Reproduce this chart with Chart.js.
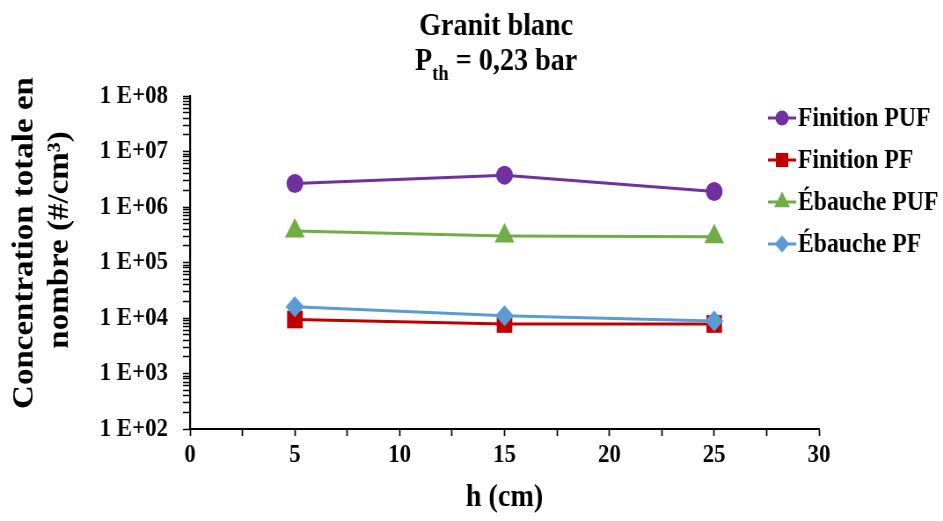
<!DOCTYPE html>
<html lang="fr">
<head>
<meta charset="utf-8">
<title>Granit blanc</title>
<script src="https://cdn.jsdelivr.net/npm/chart.js@4.4.1/dist/chart.umd.min.js"></script>
<style>
  html, body { margin: 0; padding: 0; background: #fff; overflow: hidden; }
  /* la figure d'origine est légèrement comprimée en largeur */
  #wrap { position: relative; width: 1072px; height: 521px; transform: scaleX(0.8797); transform-origin: 0 0; }
</style>
</head>
<body>
<div id="wrap"><canvas id="chart" width="1072" height="521"></canvas></div>
<script>
// Données (h en cm, concentration en #/cm3)
const hauteurs = [5, 15, 25];
const finitionPUF = [2.65e6, 3.75e6, 1.9e6];
const finitionPF = [9.4e3, 7.8e3, 7.8e3];
const ebauchePUF = [3.7e5, 3.0e5, 2.9e5];
const ebauchePF = [1.6e4, 1.1e4, 8.8e3];

const xTicks = [0, 5, 10, 15, 20, 25, 30];
const yTicks = [1e2, 1e3, 1e4, 1e5, 1e6, 1e7, 1e8];

const FONT = "'Liberation Serif', 'Times New Roman', serif";

const series = [
    { label: 'Finition PUF', data: finitionPUF, color: '#7030A0', style: 'circle', radius: 9.5, order: 3 },
    { label: 'Finition PF', data: finitionPF, color: '#C00000', style: 'rect', radius: 12.5, order: 1 },
    { label: 'Ébauche PUF', data: ebauchePUF, color: '#70AD47', style: 'triangle', radius: 13, order: 2 },
    { label: 'Ébauche PF', data: ebauchePF, color: '#5B9BD5', style: 'rectRot', radius: 10.5, order: 0 }
];

// graduations secondaires de l'axe log (2..9 x 10^n)
const yAllTicks = [];
for (let e = 2; e < 8; e++) {
    for (let m = 1; m <= 9; m++) yAllTicks.push(m * Math.pow(10, e));
}
yAllTicks.push(1e8);

function isPow10(v) {
    const e = Math.log10(v);
    return Math.abs(e - Math.round(e)) < 1e-9;
}

// titre + titre de l'axe Y + légende
const decorPlugin = {
    id: 'decor',
    afterDraw(chart) {
        const ctx = chart.ctx;
        ctx.save();
        ctx.fillStyle = '#000';

        // titre principal
        const cx = 564;
        ctx.font = 'bold 32px ' + FONT;
        ctx.textAlign = 'center';
        ctx.textBaseline = 'alphabetic';
        ctx.fillText('Granit blanc', cx, 35);

        // P_th = 0,23 bar
        const big = 'bold 32px ' + FONT;
        const small = 'bold 21px ' + FONT;
        ctx.font = big;
        const wP = ctx.measureText('P').width;
        const wRest = ctx.measureText(' = 0,23 bar').width;
        ctx.font = small;
        const wSub = ctx.measureText('th').width;
        let x = cx - (wP + wSub + wRest) / 2;
        ctx.textAlign = 'left';
        ctx.font = big;
        ctx.fillText('P', x, 70);
        x += wP;
        ctx.font = small;
        ctx.fillText('th', x, 80);
        x += wSub;
        ctx.font = big;
        ctx.fillText(' = 0,23 bar', x, 70);

        // titre de l'axe Y sur deux lignes
        ctx.font = 'bold 33px ' + FONT;
        ctx.textAlign = 'center';
        ctx.textBaseline = 'middle';
        ctx.save();
        ctx.translate(28, 243);
        ctx.rotate(-Math.PI / 2);
        ctx.fillText('Concentration totale en', 0, 0);
        ctx.restore();
        ctx.save();
        ctx.translate(68, 240);
        ctx.rotate(-Math.PI / 2);
        ctx.fillText('nombre (#/cm³)', 0, 0);
        ctx.restore();

        // légende
        const legendY = [118, 160, 202, 244];
        ctx.font = 'bold 27px ' + FONT;
        ctx.textAlign = 'left';
        ctx.textBaseline = 'middle';
        series.forEach((s, i) => {
            const y = legendY[i];
            ctx.strokeStyle = s.color;
            ctx.lineWidth = 3;
            ctx.beginPath();
            ctx.moveTo(873, y);
            ctx.lineTo(905, y);
            ctx.stroke();
            ctx.fillStyle = s.color;
            Chart.helpers.drawPoint(ctx, {
                pointStyle: s.style,
                radius: s.radius * 0.8,
                rotation: 0,
                borderWidth: 0
            }, 889, y);
            ctx.fillStyle = '#000';
            ctx.fillText(s.label, 907, y + 1);
        });

        ctx.restore();
    }
};

const ctx = document.getElementById('chart').getContext('2d');
new Chart(ctx, {
    type: 'line',
    data: {
        datasets: series.map(s => ({
            label: s.label,
            data: hauteurs.map((h, i) => ({ x: h, y: s.data[i] })),
            borderColor: s.color,
            backgroundColor: s.color,
            pointBackgroundColor: s.color,
            pointBorderColor: s.color,
            pointBorderWidth: 0,
            pointStyle: s.style,
            pointRadius: s.radius,
            pointHoverRadius: s.radius,
            borderWidth: 3,
            tension: 0,
            fill: false,
            order: s.order
        }))
    },
    options: {
        responsive: false,
        animation: false,
        events: [],
        layout: { padding: { top: 96, right: 141, left: 0, bottom: 0 } },
        plugins: {
            legend: { display: false },
            tooltip: { enabled: false }
        },
        scales: {
            x: {
                type: 'linear',
                min: 0,
                max: 30,
                afterBuildTicks: scale => {
                    const t = [];
                    for (let v = 0; v <= 30; v += 2.5) t.push({ value: v });
                    scale.ticks = t;
                },
                ticks: {
                    autoSkip: false,
                    maxRotation: 0,
                    padding: 4,
                    color: '#000',
                    font: { family: FONT, size: 26, weight: 'bold' },
                    callback: v => xTicks.includes(v) ? String(v) : ''
                },
                grid: { drawOnChartArea: false, drawTicks: true, tickLength: 7, tickColor: '#000', tickWidth: 1.7 },
                border: { color: '#000', width: 2 },
                title: {
                    display: true,
                    text: 'h (cm)',
                    color: '#000',
                    font: { family: FONT, size: 32, weight: 'bold' },
                    padding: { top: 0, bottom: 4 }
                },
                afterFit: scale => { scale.height = 92; }
            },
            y: {
                type: 'logarithmic',
                min: 1e2,
                max: 1e8,
                afterBuildTicks: scale => {
                    scale.ticks = yAllTicks.map(v => ({ value: v }));
                },
                ticks: {
                    autoSkip: false,
                    padding: 17,
                    color: '#000',
                    font: { family: FONT, size: 26, weight: 'bold' },
                    callback: v => isPow10(v) && yTicks.includes(Math.pow(10, Math.round(Math.log10(v))))
                        ? '1 E+' + String(Math.round(Math.log10(v))).padStart(2, '0')
                        : ''
                },
                grid: { drawOnChartArea: false, drawTicks: true, tickLength: 8, tickColor: '#000', tickWidth: 1.5 },
                border: { color: '#000', width: 2.2 },
                afterFit: scale => { scale.width = 216; }
            }
        }
    },
    plugins: [decorPlugin]
});
</script>
</body>
</html>
